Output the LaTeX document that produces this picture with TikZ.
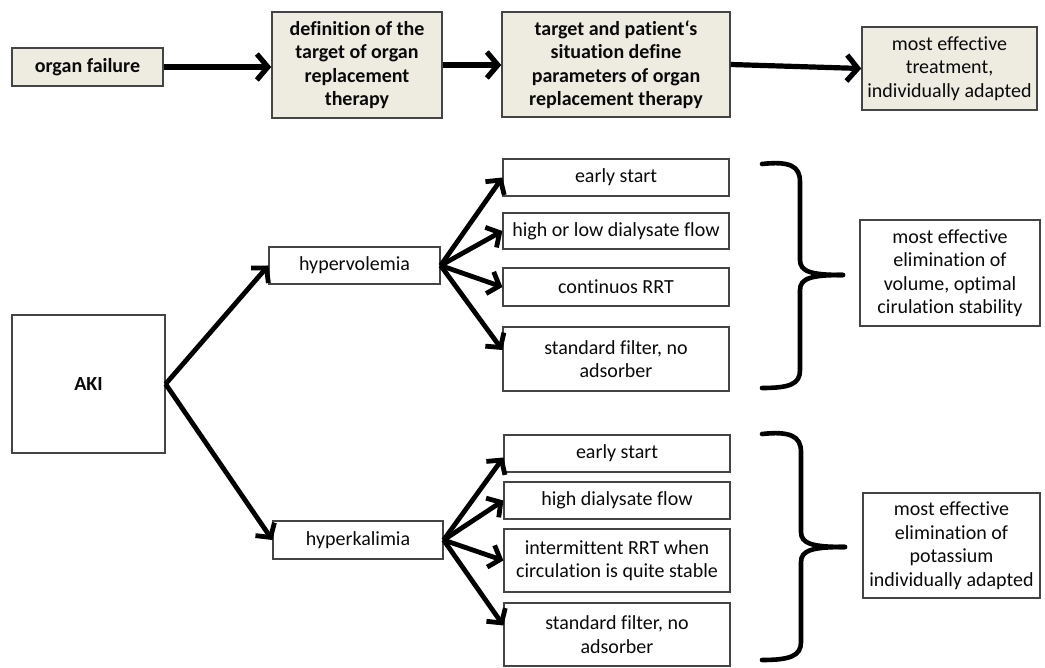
\documentclass[tikz,border=0pt]{standalone}
\usepackage{fontspec}
\setmainfont{Carlito}[Ligatures={NoCommon}]
\usetikzlibrary{arrows.meta,calc}
\definecolor{tanfill}{HTML}{EEECE1}
\definecolor{boxline}{HTML}{444444}
\definecolor{txt}{HTML}{0A0A0A}
\begin{document}
\begin{tikzpicture}[x=1pt,y=-1pt,
  base/.style={draw=boxline, rectangle, align=center, inner sep=2pt, text=txt,
    font=\fontsize{20}{23.5}\selectfont},
  topbox/.style={base, fill=tanfill, line width=1.5pt, font=\fontsize{20}{23.5}\selectfont\bfseries},
  topbox2/.style={base, fill=tanfill, line width=1.5pt},
  wbox/.style={base, fill=white, line width=1.2pt},
  bigarrow/.style={line width=5.2pt, -{Straight Barb[length=11pt,width=26pt]}},
  arr/.style={line width=4.8pt, -{Straight Barb[length=10pt,width=23pt]}},
  brace/.style={line width=4.6pt, line cap=round}
]
\useasboundingbox (0,0) rectangle (1045,668);

% top row
\node[topbox, minimum width=151pt, minimum height=38pt] (of) at (87.5,67) {organ failure};
\node[topbox, minimum width=170pt, minimum height=106pt] (def) at (357,65) {definition of the\\target of organ\\replacement\\therapy};
\node[topbox, minimum width=228pt, minimum height=105pt] (tgt) at (616,64.5) {target and patient‘s\\situation define\\parameters of organ\\replacement therapy};
\node[topbox2, minimum width=175pt, minimum height=83pt] (fin) at (949.5,68.5) {most effective\\treatment,\\individually adapted};

\draw[bigarrow] (of.east) -- (of.east -| def.west);
\draw[bigarrow] (def.east) -- (def.east -| tgt.west);
\draw[bigarrow] (tgt.east) -- (fin.west);

% AKI tree
\node[wbox, minimum width=153pt, minimum height=138pt, font=\fontsize{20}{23.5}\selectfont\bfseries] (aki) at (88.5,384) {AKI};
\node[wbox, minimum width=171pt, minimum height=37pt] (hv) at (354.5,265.5) {hypervolemia};
\node[wbox, minimum width=170pt, minimum height=38pt] (hk) at (358,540) {hyperkalimia};

\node[wbox, minimum width=226pt, minimum height=37pt] (es1) at (616,177.5) {early start};
\node[wbox, minimum width=226pt, minimum height=36pt] (hl) at (616,231) {high or low dialysate flow};
\node[wbox, minimum width=226pt, minimum height=38pt] (cr) at (616,287) {continuos RRT};
\node[wbox, minimum width=226pt, minimum height=64pt] (sf1) at (616,359) {standard filter, no\\adsorber};

\node[wbox, minimum width=226pt, minimum height=37pt] (es2) at (617,453.5) {early start};
\node[wbox, minimum width=226pt, minimum height=37pt] (hd) at (617,500.5) {high dialysate flow};
\node[wbox, minimum width=226pt, minimum height=63pt] (ir) at (617,560.5) {intermittent RRT when\\circulation is quite stable};
\node[wbox, minimum width=226pt, minimum height=63pt] (sf2) at (617,634.5) {standard filter, no\\adsorber};

\node[wbox, minimum width=180pt, minimum height=106pt] (r1) at (950,273) {most effective\\elimination of\\volume, optimal\\cirulation stability};
\node[wbox, minimum width=177pt, minimum height=105pt] (r2) at (951.5,545.5) {most effective\\elimination of\\potassium\\individually adapted};

\draw[arr] (aki.east) -- (hv.west);
\draw[arr] (aki.east) -- (hk.west);

\draw[arr] (hv.east) -- (es1.west);
\draw[arr] (hv.east) -- (hl.west);
\draw[arr] (hv.east) -- (cr.west);
\draw[arr] (hv.east) -- ([yshift=9pt]sf1.west);

\draw[arr] (hk.east) -- ([yshift=-4pt]es2.west);
\draw[arr] (hk.east) -- (hd.west);
\draw[arr] (hk.east) -- (ir.west);
\draw[arr] (hk.east) -- ([yshift=9pt]sf2.west);

% braces
\draw[brace] (762,164) .. controls (790,161) and (800,166) .. (800,182)
  -- (800,260) .. controls (800,272) and (812,275) .. (843,275);
\draw[brace] (843,275) .. controls (812,275) and (800,278) .. (800,290)
  -- (800,370) .. controls (800,384) and (790,388) .. (762,388);

\draw[brace] (762,434) .. controls (790,431) and (801,436) .. (801,452)
  -- (801,532) .. controls (801,544) and (813,547) .. (845,547);
\draw[brace] (845,547) .. controls (813,547) and (801,550) .. (801,562)
  -- (801,642) .. controls (801,656) and (790,660) .. (762,660);
\end{tikzpicture}
\end{document}
